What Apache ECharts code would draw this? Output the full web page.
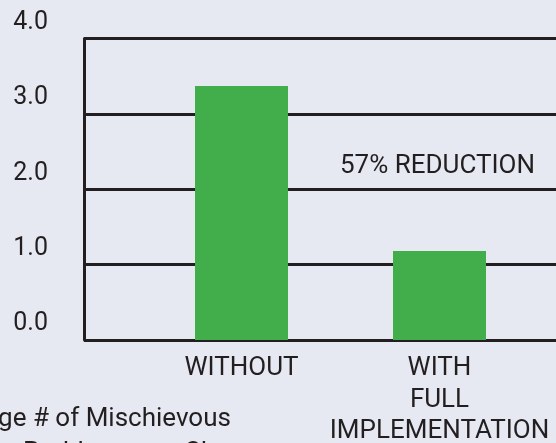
<!DOCTYPE html>
<html>
<head>
<meta charset="utf-8">
<script src="https://cdn.jsdelivr.net/npm/echarts@6/dist/echarts.min.js"></script>
<style>
  html, body { margin: 0; padding: 0; background: #e6e8f2; }
  #main { width: 556px; height: 443px; }
</style>
</head>
<body>
<div id="main"></div>
<script>
  // data
  var categories = ['WITHOUT', 'WITH\nFULL\nIMPLEMENTATION'];
  var values = [3.37, 1.18];
  var yTicks = [0, 1, 2, 3, 4];
  var axisName = 'Average # of Mischievous\nBehavior Problems per Class';
  var note = '57% REDUCTION';

  var ink = '#231f20';
  var font = 'Roboto';

  var chart = echarts.init(document.getElementById('main'));

  var option = {
    backgroundColor: '#e6e8f2',
    animation: false,
    textStyle: { fontFamily: font },
    grid: [
      // frame grid: axis line, labels, gridlines
      { left: 84, top: 38.5, bottom: 103, width: 600, outerBoundsMode: 'none', containLabel: false },
      // bar grid
      { left: 142.5, top: 38.5, bottom: 103, width: 396, outerBoundsMode: 'none', containLabel: false }
    ],
    xAxis: [
      { type: 'value', gridIndex: 0, show: false, min: 0, max: 1 },
      {
        type: 'category', gridIndex: 1, data: categories,
        axisLine: { show: false }, axisTick: { show: false },
        axisLabel: {
          color: ink, fontSize: 26, fontFamily: font,
          lineHeight: 31.5, margin: 13, interval: 0
        }
      }
    ],
    yAxis: [
      {
        type: 'value', gridIndex: 0,
        min: yTicks[0], max: yTicks[yTicks.length - 1], interval: 1,
        axisLine: { show: true, lineStyle: { color: ink, width: 3 } },
        axisTick: { show: false },
        splitLine: { show: true, lineStyle: { color: ink, width: 3 } },
        axisLabel: {
          color: ink, fontSize: 25, fontFamily: font, margin: 36,
          verticalAlign: 'bottom', lineHeight: 32,
          formatter: function (v) { return v.toFixed(1); }
        },
        name: axisName,
        nameLocation: 'start',
        nameGap: 62,
        nameTextStyle: {
          color: ink, fontSize: 26, fontFamily: font, lineHeight: 34,
          align: 'center', verticalAlign: 'top', padding: [0, 4, 0, 0]
        }
      },
      { type: 'value', gridIndex: 1, show: false, min: 0, max: 4 }
    ],
    series: [{
      type: 'bar',
      xAxisIndex: 1, yAxisIndex: 1,
      data: values,
      barWidth: 93,
      itemStyle: { color: '#42ae4b' }
    }],
    graphic: [{
      type: 'text',
      left: 340, top: 153,
      style: { text: note, fill: ink, font: '26px Roboto' }
    }]
  };

  chart.setOption(option);
</script>
</body>
</html>
